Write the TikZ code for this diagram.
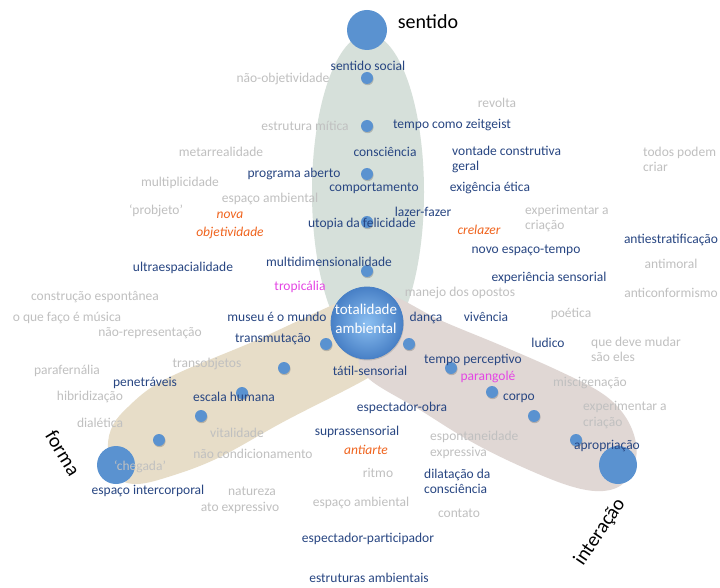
\documentclass[tikz,border=0pt]{standalone}
\usepackage{fontspec}
\setmainfont{Carlito}
\usetikzlibrary{shadows}

\definecolor{navy}{RGB}{40,70,130}
\definecolor{mist}{RGB}{192,192,192}
\definecolor{ember}{RGB}{240,100,30}
\definecolor{fuchsia}{RGB}{228,70,228}
\definecolor{dotblue}{RGB}{90,146,208}
\definecolor{hubrim}{RGB}{72,128,198}
\definecolor{hubcore}{RGB}{140,192,242}
\definecolor{sage}{RGB}{214,224,218}
\definecolor{sand}{RGB}{231,221,200}
\definecolor{rosy}{RGB}{224,215,212}

\tikzset{
  lbl/.style={inner sep=0pt, font=\fontsize{13.5}{15.5}\selectfont},
  key/.style={lbl, text=navy},
  faint/.style={lbl, text=mist},
  accent/.style={lbl, text=ember, font=\fontsize{13.5}{18}\selectfont\itshape},
  hot/.style={lbl, text=fuchsia},
  axislbl/.style={inner sep=0pt, font=\fontsize{20}{24}\selectfont},
  dot/.style={circle, fill=dotblue, minimum size=12pt, inner sep=0pt,
    drop shadow={shadow xshift=0.6pt, shadow yshift=-1.2pt, opacity=0.35, fill=black!60}},
  pole/.style={circle, fill=dotblue, minimum size=40pt, inner sep=0pt},
  stack/.style={align=left, anchor=west},
}

\begin{document}
\begin{tikzpicture}[x=1pt, y=-1pt]
\useasboundingbox (0,0) rectangle (720,588);
\fill[white] (0,0) rectangle (720,588);

% three petals
\fill[sage] (368,192) ellipse [x radius=56pt, y radius=158pt];
\fill[sand] plot[smooth cycle, tension=0.6] coordinates {
  (108,447) (113,425) (128,407) (152,387) (185,370) (250,343) (300,320) (335,304)
  (365,292) (390,300) (405,322) (405,352) (368,378) (285,421) (218,458) (168,477)
  (135,484) (115,475)};
\fill[rosy] plot[smooth cycle, tension=0.6] coordinates {
  (368,378) (357,350) (356,320) (372,298) (395,297) (440,320) (500,345) (557,370)
  (600,392) (622,412) (634,435) (636,458) (625,482) (603,491) (570,486) (520,466)
  (470,441) (420,410)};

% poles
\node[pole] (psentido) at (367,30) {};
\node[pole, minimum size=38pt] (pforma) at (116,465) {};
\node[pole, minimum size=38pt] (pinteracao) at (618,465) {};

% hub
\node[circle, minimum size=72pt, inner sep=0pt, draw=hubrim, line width=0.8pt,
  shade, inner color=hubcore, outer color=hubrim,
  drop shadow={shadow xshift=0.8pt, shadow yshift=-1.5pt, opacity=0.25, fill=black!60}]
  (hub) at (367,323) {};
\node[inner sep=0pt, align=center, text=white, font=\fontsize{15}{19}\selectfont]
  (hubtext) at (366,318.5) {totalidade\\ambiental};

% dots along the petals
\foreach \px/\py [count=\i] in {367/78, 367/126, 367/174, 367/222, 367/271}
  \node[dot] (g\i) at (\px,\py) {};
\foreach \px/\py [count=\i] in {326/344, 284/368, 242/393, 201/416, 159/440}
  \node[dot] (f\i) at (\px,\py) {};
\foreach \px/\py [count=\i] in {409/344, 451/368, 492/392, 534/416, 576/440}
  \node[dot] (m\i) at (\px,\py) {};

% axis labels
\node[axislbl] (lsentido) at (428,22) {sentido};
\node[axislbl, rotate=-59] (lforma) at (63,453) {forma};
\node[axislbl, rotate=56] (linteracao) at (600,532) {interação};

% terms
\node[key] (t1) at (368,66) {sentido social};
\node[faint] (t2) at (283,79) {não-objetividade};
\node[faint] (t3) at (497,103) {revolta};
\node[faint] (t4) at (305,126) {estrutura mítica};
\node[key] (t5) at (452,125) {tempo como zeitgeist};
\node[faint] (t6) at (221,152) {metarrealidade};
\node[key] (t7) at (385,152) {consciência};
\node[key, stack] (t8) at (452,159.5) {vontade construtiva\\geral};
\node[faint, stack] (t9) at (643,159.5) {todos podem\\criar};
\node[key] (t10) at (294,174) {programa aberto};
\node[faint] (t11) at (180,183) {multiplicidade};
\node[key] (t12) at (374,188) {comportamento};
\node[key] (t13) at (490,188) {exigência ética};
\node[faint] (t14) at (270,199) {espaço ambiental};
\node[faint] (t15) at (156,211) {‘probjeto’};
\node[accent, align=center] (t16) at (230,225) {nova\\objetividade};
\node[key] (t17) at (423,212) {lazer-fazer};
\node[faint, stack] (t18) at (525,218.5) {experimentar a\\criação};
\node[key] (t19) at (362,224) {utopia da felicidade};
\node[accent] (t20) at (479,230) {crelazer};
\node[key] (t21) at (671,240) {antiestratificação};
\node[key] (t22) at (526,250) {novo espaço-tempo};
\node[key] (t23) at (183,268) {ultraespacialidade};
\node[key] (t24) at (329,262) {multidimensionalidade};
\node[faint] (t25) at (671,264) {antimoral};
\node[key] (t26) at (549,278) {experiência sensorial};
\node[hot] (t27) at (300,287) {tropicália};
\node[faint] (t28) at (95,297) {construção espontânea};
\node[faint] (t29) at (460,293) {manejo dos opostos};
\node[faint] (t30) at (671,293) {anticonformismo};
\node[faint] (t31) at (67,318) {o que faço é música};
\node[key] (t32) at (277,317) {museu é o mundo};
\node[key] (t33) at (426,318) {dança};
\node[key] (t34) at (486,317) {vivência};
\node[faint] (t35) at (571,314) {poética};
\node[faint] (t36) at (150,333) {não-representação};
\node[key] (t37) at (273,339) {transmutação};
\node[key] (t38) at (548,343) {ludico};
\node[faint, stack] (t39) at (591,349.5) {que deve mudar\\são eles};
\node[faint] (t40) at (67,371) {parafernália};
\node[faint] (t41) at (207,364) {transobjetos};
\node[key] (t42) at (370,371) {tátil-sensorial};
\node[key] (t43) at (473,360) {tempo perceptivo};
\node[hot] (t44) at (488,377) {parangolé};
\node[key] (t45) at (145,383) {penetráveis};
\node[faint] (t46) at (590,383) {miscigenação};
\node[faint] (t47) at (90,397) {hibridização};
\node[key] (t48) at (234,397) {escala humana};
\node[key] (t49) at (519,398) {corpo};
\node[key] (t50) at (402,408) {espectador-obra};
\node[faint, stack] (t51) at (583,415) {experimentar a\\criação};
\node[faint] (t52) at (100,423) {dialética};
\node[faint] (t53) at (237,433) {vitalidade};
\node[key] (t54) at (357,432) {suprassensorial};
\node[faint, stack] (t55) at (430,445) {espontaneidade\\expressiva};
\node[key] (t56) at (607,446) {apropriação};
\node[accent] (t57) at (366,450) {antiarte};
\node[faint] (t58) at (253,454) {não condicionamento};
\node[faint] (t59) at (140,467) {‘chegada’};
\node[faint] (t60) at (378,473) {ritmo};
\node[key, stack] (t61) at (424,481.5) {dilatação da\\consciência};
\node[key] (t62) at (148,491) {espaço intercorporal};
\node[faint] (t63) at (252,491) {natureza};
\node[faint] (t64) at (361,503) {espaço ambiental};
\node[faint] (t65) at (240,508) {ato expressivo};
\node[faint] (t66) at (459,513) {contato};
\node[key] (t67) at (368,539) {espectador-participador};
\node[key] (t68) at (369,578) {estruturas ambientais};
\end{tikzpicture}
\end{document}
